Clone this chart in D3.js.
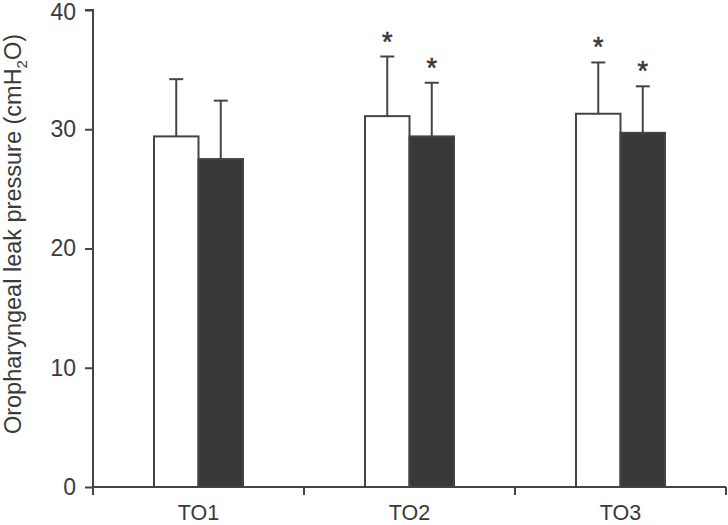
<!DOCTYPE html>
<html>
<head>
<meta charset="utf-8">
<script src="https://cdn.jsdelivr.net/npm/d3@7"></script>
<style>
  html, body { margin: 0; padding: 0; background: #fff; }
  svg { display: block; }
  text { font-family: "Liberation Sans", Arial, sans-serif; fill: #3a3a3a; }
</style>
</head>
<body>
<svg id="chart" width="728" height="525"></svg>
<script>
const categories = ["TO1", "TO2", "TO3"];
const groups = ["white", "dark"];
const whiteMeans = [29.4, 31.1, 31.3];
const whiteUpper = [34.2, 36.1, 35.6];
const darkMeans = [27.5, 29.4, 29.7];
const darkUpper = [32.4, 33.9, 33.6];
const whiteSig = [false, true, true];
const darkSig = [false, true, true];
const yTicks = [0, 10, 20, 30, 40];

const W = 728, H = 525;
const margin = { left: 93, right: 2, top: 10, bottom: 38 };
const svg = d3.select("#chart");
const axisColor = "#444";
const font = '"Liberation Sans", Arial, sans-serif';

const x = d3.scaleBand().domain(categories).range([margin.left, W - margin.right]).padding(0);
const y = d3.scaleLinear().domain([0, 40]).range([H - margin.bottom, margin.top]);
const barW = 44.5;
const inner = d3.scaleBand().domain(groups).range([0, barW * 2]).padding(0);

const data = [];
categories.forEach((c, i) => {
  data.push({ cat: c, g: "white", v: whiteMeans[i], up: whiteUpper[i], sig: whiteSig[i] });
  data.push({ cat: c, g: "dark", v: darkMeans[i], up: darkUpper[i], sig: darkSig[i] });
});
const bx = d => x(d.cat) + x.bandwidth() / 2 - barW + inner(d.g);

// error bars
const eb = svg.append("g");
data.forEach(d => {
  const cx = bx(d) + inner.bandwidth() / 2;
  eb.append("line").attr("x1", cx).attr("x2", cx).attr("y1", y(d.v)).attr("y2", y(d.up))
    .attr("stroke", axisColor).attr("stroke-width", 2);
  eb.append("line").attr("x1", cx - 7).attr("x2", cx + 7).attr("y1", y(d.up)).attr("y2", y(d.up))
    .attr("stroke", axisColor).attr("stroke-width", 2);
  if (d.sig) {
    eb.append("text").attr("x", cx).attr("y", y(d.up) - 6).attr("text-anchor", "middle")
      .style("font-size", "27px").style("font-family", font)
      .attr("stroke", "#3a3a3a").attr("stroke-width", 0.6).text("*");
  }
});

// bars
svg.append("g").selectAll("rect").data(data).join("rect")
  .attr("x", d => bx(d)).attr("width", inner.bandwidth())
  .attr("y", d => y(d.v)).attr("height", d => y(0) - y(d.v))
  .attr("fill", d => d.g === "white" ? "#fff" : "#383838")
  .attr("stroke", axisColor).attr("stroke-width", 2);

// y axis
const yAxis = svg.append("g").attr("transform", `translate(${margin.left},0)`)
  .call(d3.axisLeft(y).tickValues(yTicks).tickSize(8).tickPadding(9));
yAxis.select(".domain").attr("d", `M-8,${y(40)}H0V${y(0) + 8}`);
yAxis.selectAll("line, path").attr("stroke", axisColor).attr("stroke-width", 2);
yAxis.selectAll("text").style("font-size", "23px").attr("fill", "#3a3a3a")
  .style("font-family", font);
yAxis.selectAll(".tick text").filter(d => d === 40).attr("dy", "0.4em");

// x axis
const xAxis = svg.append("g").attr("transform", `translate(0,${y(0)})`)
  .call(d3.axisBottom(x).tickSize(0).tickPadding(18));
xAxis.select(".domain").attr("d", `M${margin.left},0H${W - margin.right}`);
xAxis.selectAll(".tick line").remove();
xAxis.selectAll("line, path").attr("stroke", axisColor).attr("stroke-width", 2);
xAxis.selectAll("text").style("font-size", "21.5px").attr("fill", "#3a3a3a")
  .style("font-family", font);
const bounds = categories.slice(1).map(c => x(c)).concat([x(categories[2]) + x.bandwidth()]);
xAxis.selectAll(".bt").data(bounds).join("line").attr("class", "bt")
  .attr("x1", d => d).attr("x2", d => d).attr("y1", 0).attr("y2", 8)
  .attr("stroke", axisColor).attr("stroke-width", 2);

// y title
const title = svg.append("text")
  .attr("transform", `translate(21,234) rotate(-90)`)
  .attr("text-anchor", "middle").style("font-size", "23.5px").style("font-family", font);
title.append("tspan").text("Oropharyngeal leak pressure (cmH");
title.append("tspan").text("2").style("font-size", "15px").attr("dy", "6");
title.append("tspan").text("O)").attr("dy", "-6");
</script>
</body>
</html>
